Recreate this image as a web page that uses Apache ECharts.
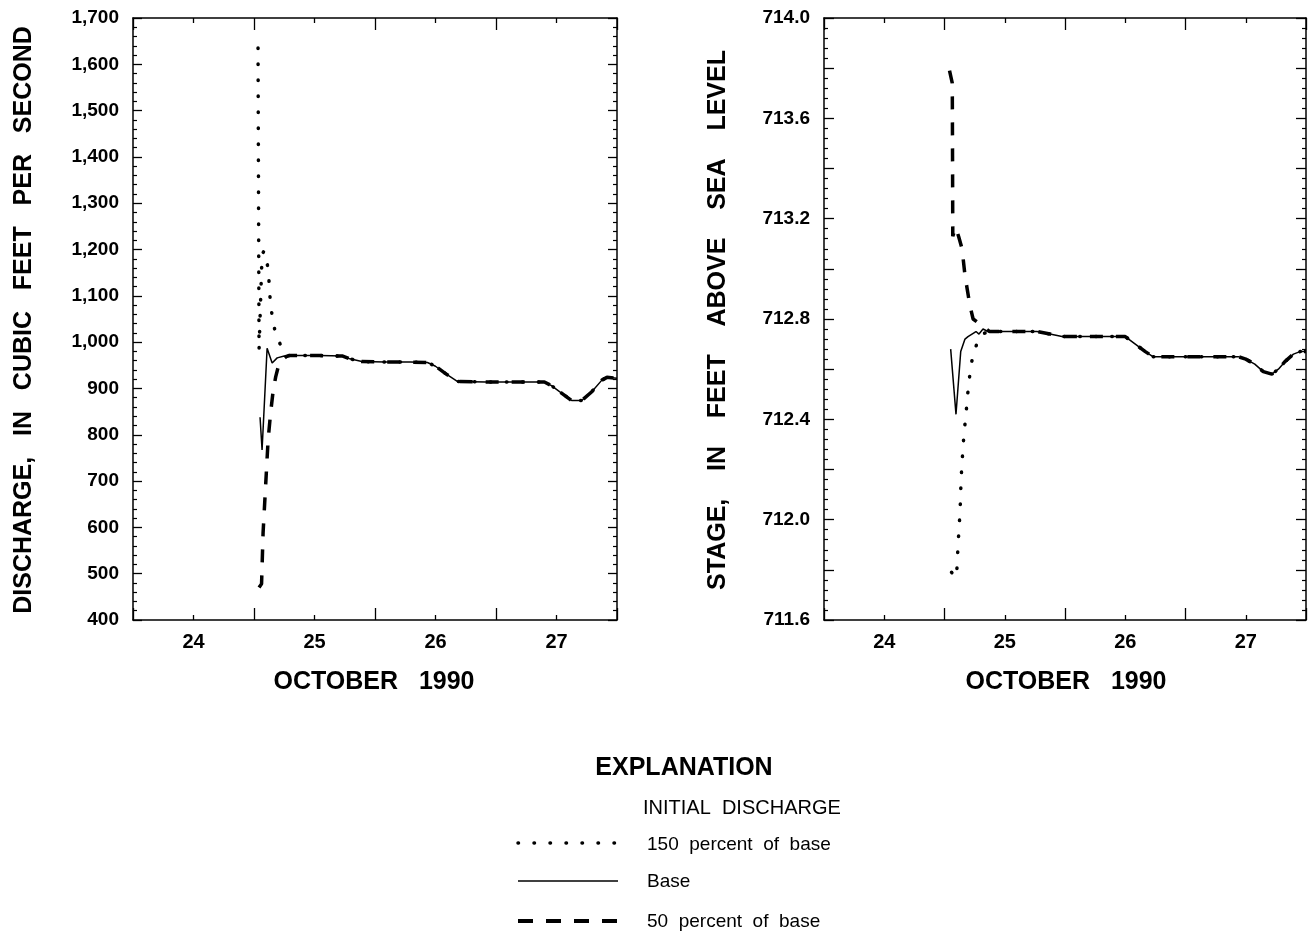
<!DOCTYPE html>
<html>
<head>
<meta charset="utf-8">
<script src="https://cdn.jsdelivr.net/npm/echarts@6/dist/echarts.min.js"></script>
<style>
  html, body { margin: 0; padding: 0; background: #ffffff; }
  #chart { width: 1312px; height: 935px; }
</style>
</head>
<body>
<div id="chart"></div>
<script>
// Time is counted in hours after 00:00, October 24, 1990.
const dayLabels = ['24', '25', '26', '27'];

// Discharge (cubic feet per second): start-up part of each run
const qHighHours  = [24.8, 25.0, 25.6, 26.0, 26.8, 27.0, 27.2, 27.6, 28.2, 29.4, 30.4];
const qHighValues = [1635, 983, 1190, 1197, 1160, 1128, 1093, 1056, 1022, 990, 972];
const qBaseHours  = [25.2, 25.6, 26.6, 27.6, 28.6, 30.0];
const qBaseValues = [838, 767, 987, 955, 966, 970];
const qLowHours   = [25.0, 25.5, 25.8, 26.4, 26.8, 27.3, 27.8, 28.3, 29.0, 29.6, 30.4];
const qLowValues  = [470, 478, 588, 709, 789, 848, 895, 925, 955, 961, 969];
// Discharge once the three runs have converged
const qTailHours  = [31, 37, 41.6, 43, 45.4, 50, 55, 58.4, 60, 62, 64.4, 70, 75, 81.6, 83, 85, 87, 89, 91, 93, 94, 96];
const qTailValues = [971, 971, 970, 964, 958, 957, 957, 956, 948, 932, 915, 914, 914, 914, 906, 890, 874, 874, 893, 918, 924, 922];

// Stage (feet above sea level): start-up part of each run
const sHighHours  = [25.4, 26.4, 26.55, 26.9, 27.1, 27.3, 27.5, 27.7, 27.9, 28.3, 28.5, 28.9, 29.2, 30.0, 31.4];
const sHighValues = [711.79, 711.77, 711.84, 711.97, 712.03, 712.16, 712.23, 712.29, 712.35, 712.42, 712.48, 712.55, 712.61, 712.68, 712.74];
const sBaseHours  = [25.23, 26.29, 27.23, 28.08, 28.68, 30.27, 30.87, 31.67, 32.66];
const sBaseValues = [712.68, 712.42, 712.67, 712.72, 712.73, 712.75, 712.74, 712.76, 712.75];
const sLowHours   = [25.0, 25.55, 25.6, 25.65, 26.2, 26.8, 27.5, 28.1, 29.1, 29.7, 31.7];
const sLowValues  = [713.79, 713.74, 713.45, 713.13, 713.165, 713.13, 713.08, 712.97, 712.85, 712.80, 712.77];
// Stage once the three runs have converged
const sTailHours  = [33, 37, 42.4, 45, 47.4, 55, 60, 62, 64, 65.5, 75, 82.5, 84, 85.8, 87.5, 89.2, 90.5, 91.8, 93.5, 94.8, 96];
const sTailValues = [712.75, 712.75, 712.75, 712.74, 712.73, 712.73, 712.73, 712.70, 712.67, 712.65, 712.65, 712.65, 712.64, 712.62, 712.59, 712.58, 712.60, 712.63, 712.66, 712.67, 712.67];

const FONT = "'Liberation Sans', Arial, Helvetica, sans-serif";
const INK = '#000000';

function pairs(hours, values) {
  return hours.map((h, i) => [h, values[i]]);
}
function run(hours, values, tailHours, tailValues) {
  return pairs(hours, values).concat(pairs(tailHours, tailValues));
}

const solidStyle  = { color: INK, width: 1.5, type: 'solid' };
const dashedStyle = { color: INK, width: 3.5, type: [13, 13], cap: 'butt' };
const dottedStyle = { color: INK, width: 3.5, type: [0.5, 15.5], cap: 'round' };

function lineSeries(name, data, style, xi, yi) {
  return {
    name, type: 'line', data, xAxisIndex: xi, yAxisIndex: yi,
    symbol: 'none', smooth: false, lineStyle: style, silent: true,
    emphasis: { disabled: true }
  };
}

function frameXAxis(gridIndex, position) {
  return {
    type: 'value', gridIndex, position, min: 0, max: 96, interval: 24,
    axisLine: { show: true, onZero: false, lineStyle: { color: INK, width: 1.5 } },
    axisTick: { show: true, inside: true, length: 12, lineStyle: { color: INK, width: 1.3 } },
    minorTick: { show: true, splitNumber: 2, length: 5, lineStyle: { color: INK, width: 1.3 } },
    axisLabel: { show: false }, splitLine: { show: false }
  };
}
function dayLabelAxis(gridIndex) {
  return {
    type: 'value', gridIndex, position: 'bottom', min: 0, max: 96, interval: 12,
    axisLine: { show: false }, axisTick: { show: false }, splitLine: { show: false },
    axisLabel: {
      show: true, margin: 12, color: INK, fontFamily: FONT, fontSize: 20, fontWeight: 'bold',
      formatter: v => (Math.round(v) % 24 === 12 ? dayLabels[(Math.round(v) - 12) / 24] : '')
    }
  };
}
function frameYAxis(gridIndex, position, min, max, interval, tickLen, labelFn) {
  return {
    type: 'value', gridIndex, position, min, max, interval,
    axisLine: { show: true, onZero: false, lineStyle: { color: INK, width: 1.5 } },
    axisTick: { show: true, inside: true, length: tickLen, lineStyle: { color: INK, width: 1.3 } },
    minorTick: { show: true, splitNumber: 5, length: 4, lineStyle: { color: INK, width: 1.2 } },
    splitLine: { show: false },
    axisLabel: labelFn ? {
      show: true, margin: 14, color: INK, fontFamily: FONT, fontSize: 19, fontWeight: 'bold', formatter: labelFn
    } : { show: false }
  };
}

const dischargeLabel = v => {
  const n = Math.round(v);
  return n >= 1000 ? Math.floor(n / 1000) + ',' + String(n % 1000).padStart(3, '0') : String(n);
};
const stageLabel = v => (Math.round(v * 10) % 4 === 0 ? v.toFixed(1) : '');

function titleText(x, y, text, size, weight, rotate, align) {
  return {
    type: 'text', x, y, rotation: rotate ? Math.PI / 2 : 0, silent: true,
    style: {
      text, fill: INK, font: `${weight} ${size}px ${FONT}`,
      align: align || 'center', verticalAlign: 'middle'
    }
  };
}
function sampleLine(y, style) {
  return {
    type: 'line', silent: true,
    shape: { x1: 518, y1: y, x2: 618, y2: y },
    style: Object.assign({ stroke: INK, fill: null }, style)
  };
}

const option = {
  animation: false,
  backgroundColor: '#ffffff',
  grid: [
    { left: 133, top: 18, width: 484, height: 602 },
    { left: 824, top: 18, width: 482, height: 602 }
  ],
  xAxis: [
    frameXAxis(0, 'bottom'), dayLabelAxis(0), frameXAxis(0, 'top'),
    frameXAxis(1, 'bottom'), dayLabelAxis(1), frameXAxis(1, 'top')
  ],
  yAxis: [
    frameYAxis(0, 'left', 400, 1700, 100, 9, dischargeLabel),
    frameYAxis(0, 'right', 400, 1700, 100, 9, null),
    frameYAxis(1, 'left', 711.6, 714, 0.2, 10, stageLabel),
    frameYAxis(1, 'right', 711.6, 714, 0.2, 10, null)
  ],
  series: [
    lineSeries('Base', run(qBaseHours, qBaseValues, qTailHours, qTailValues), solidStyle, 0, 0),
    lineSeries('50 percent of base', run(qLowHours, qLowValues, qTailHours, qTailValues), dashedStyle, 0, 0),
    lineSeries('150 percent of base', run(qHighHours, qHighValues, qTailHours, qTailValues), dottedStyle, 0, 0),
    lineSeries('Base', run(sBaseHours, sBaseValues, sTailHours, sTailValues), solidStyle, 3, 2),
    lineSeries('50 percent of base', run(sLowHours, sLowValues, sTailHours, sTailValues), dashedStyle, 3, 2),
    lineSeries('150 percent of base', run(sHighHours, sHighValues, sTailHours, sTailValues), dottedStyle, 3, 2)
  ],
  graphic: [
    titleText(24, 320, 'DISCHARGE,   IN   CUBIC   FEET   PER   SECOND', 25, 'bold', true),
    titleText(718, 320, 'STAGE,    IN    FEET    ABOVE    SEA    LEVEL', 25, 'bold', true),
    titleText(374, 682, 'OCTOBER   1990', 25, 'bold', false),
    titleText(1066, 682, 'OCTOBER   1990', 25, 'bold', false),
    titleText(684, 768, 'EXPLANATION', 25, 'bold', false),
    titleText(643, 808, 'INITIAL  DISCHARGE', 20, 'normal', false, 'left'),
    sampleLine(843, { lineWidth: 3.5, lineDash: [0.5, 15.5], lineCap: 'round' }),
    titleText(647, 845, '150  percent  of  base', 19, 'normal', false, 'left'),
    sampleLine(881, { lineWidth: 1.5 }),
    titleText(647, 882, 'Base', 19, 'normal', false, 'left'),
    sampleLine(921, { lineWidth: 4, lineDash: [15, 13], lineCap: 'butt' }),
    titleText(647, 922, '50  percent  of  base', 19, 'normal', false, 'left')
  ]
};

const chart = echarts.init(document.getElementById('chart'), null, { renderer: 'canvas' });
chart.setOption(option);
</script>
</body>
</html>
